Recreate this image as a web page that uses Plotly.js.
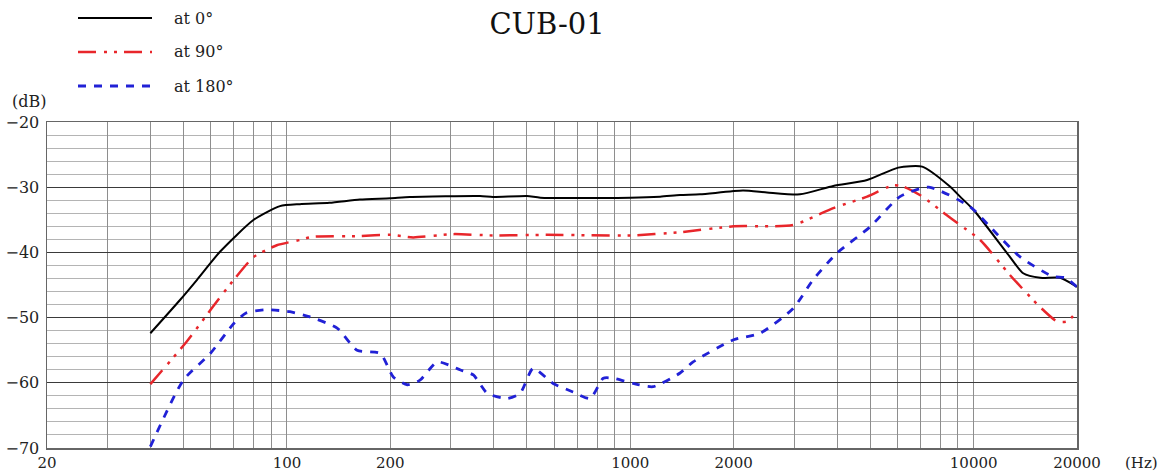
<!DOCTYPE html>
<html>
<head>
<meta charset="utf-8">
<script src="https://cdn.plot.ly/plotly-3.0.1.min.js"></script>
<style>html,body{margin:0;padding:0;background:#fff;}#chart{width:1173px;height:475px;}</style>
</head>
<body>
<div id="chart"></div>
<script>
// Frequency (Hz) and level (dB)
const freq0 = [40, 48.8, 54.7, 63.8, 80, 95.4, 109, 133, 163, 200, 228, 365, 398, 500, 547, 1000, 1221, 1396, 1596, 2129, 2500, 3120, 3900, 4896, 6030, 7080, 8530, 9130, 10000, 12510, 13940, 15630, 17870, 20000];
const db0   = [-52.4, -47.3, -44.2, -39.9, -35.0, -32.9, -32.6, -32.4, -31.9, -31.7, -31.5, -31.35, -31.5, -31.35, -31.6, -31.6, -31.45, -31.2, -31.1, -30.5, -30.8, -31.1, -29.8, -28.9, -27.0, -26.85, -29.9, -31.45, -33.5, -40.1, -43.2, -43.9, -43.9, -45.3];

const freq90 = [40, 51.2, 60.9, 70, 80, 93.4, 109, 119, 163, 200, 233, 305, 398, 572, 1000, 1396, 2000, 2980, 3900, 4896, 5830, 6240, 7100, 8300, 9130, 10450, 12770, 14900, 15920, 17500, 18700, 20000];
const db90   = [-60.2, -53.6, -48.3, -44.2, -40.7, -38.9, -38.1, -37.6, -37.5, -37.3, -37.7, -37.2, -37.4, -37.3, -37.4, -36.9, -36.0, -35.8, -33.2, -31.45, -29.7, -29.9, -31.45, -34.2, -35.8, -38.1, -43.5, -47.3, -48.8, -50.6, -50.6, -49.1];

const freq180 = [40, 49.9, 59.8, 70, 76, 87, 102, 116.7, 140, 160, 187, 204, 224, 244, 274, 319, 349, 383, 438, 478, 521, 596, 681, 764, 834, 891, 1019, 1165, 1396, 1524, 2000, 2388, 2980, 3406, 4000, 4990, 6100, 7400, 9770, 11170, 13660, 17020, 18500, 20000];
const db180   = [-69.8, -59.6, -55.5, -50.9, -49.3, -48.8, -49.1, -49.9, -51.6, -55.0, -55.5, -59.1, -60.3, -59.6, -56.8, -58.0, -58.8, -61.6, -62.4, -61.6, -57.8, -60.1, -61.4, -62.4, -59.3, -59.3, -60.1, -60.6, -58.5, -56.8, -53.4, -52.4, -48.6, -44.2, -40.1, -36.1, -31.45, -30.0, -33.0, -36.1, -40.7, -43.7, -43.9, -45.3];

const seriesNames = ["at 0°", "at 90°", "at 180°"];
const gridFreqs = [20,30,40,50,60,70,80,90,100,200,300,400,500,600,700,800,900,1000,2000,3000,4000,5000,6000,7000,8000,9000,10000,20000];
const labeledFreqs = [20,100,200,1000,2000,10000,20000];
const chartTitle = "CUB-01";

const serif = "DejaVu Serif, Liberation Serif, serif";
const styles = [
  {color: "#000000", width: 2, dash: "solid"},
  {color: "#e8262b", width: 2.5, dash: "18px,8px,3px,7px,3px,7px"},
  {color: "#2121d6", width: 2.8, dash: "8px,8px"}
];

const traces = [[freq0, db0], [freq90, db90], [freq180, db180]].map((s, i) => ({
  x: s[0], y: s[1], type: "scatter", mode: "lines", name: seriesNames[i],
  line: {color: styles[i].color, width: styles[i].width, dash: styles[i].dash, shape: "spline", smoothing: 0.6},
  showlegend: false, hoverinfo: "x+y"
}));

// plot area in pixels: left 47, right 1077, top 122, bottom 448
const L = 47, R = 1077, T = 122, B = 448;
const px = v => (v - L) / (R - L);
const py = v => (B - v) / (B - T);

const shapes = [];
const annotations = [];
const legendY = [18, 52, 86];
seriesNames.forEach((n, i) => {
  shapes.push({type: "line", xref: "paper", yref: "paper", x0: px(78), x1: px(152), y0: py(legendY[i]), y1: py(legendY[i]),
    line: {color: styles[i].color, width: styles[i].width, dash: styles[i].dash}});
  annotations.push({xref: "paper", yref: "paper", x: px(172), y: py(legendY[i]), xanchor: "left", yanchor: "middle",
    text: n, showarrow: false, font: {family: serif, size: 16, color: "#222"}});
});
annotations.push({xref: "paper", yref: "paper", x: px(29), y: py(102), xanchor: "center", yanchor: "middle",
  text: "(dB)", showarrow: false, font: {family: serif, size: 16, color: "#222"}});
annotations.push({xref: "paper", yref: "paper", x: px(1141), y: py(463), xanchor: "center", yanchor: "middle",
  text: "(Hz)", showarrow: false, font: {family: serif, size: 15, color: "#222"}});

const layout = {
  width: 1173, height: 475,
  margin: {l: L, r: 1173 - R, t: T, b: 475 - B, pad: 0},
  paper_bgcolor: "#fff", plot_bgcolor: "#fff",
  title: {text: chartTitle, x: 547 / 1173, xanchor: "center", y: 1 - 24 / 475, yanchor: "middle",
    font: {family: serif, size: 29, color: "#111"}},
  xaxis: {
    type: "log", range: [Math.log10(20), Math.log10(20000)],
    tickmode: "array", tickvals: gridFreqs,
    ticktext: gridFreqs.map(f => labeledFreqs.includes(f) ? String(f) : ""),
    showgrid: true, gridcolor: "#8e8e8e", gridwidth: 1,
    showline: true, linecolor: "#666", linewidth: 1.5, mirror: true,
    ticks: "", ticklen: 0,
    tickfont: {family: serif, size: 15, color: "#222"}, zeroline: false, fixedrange: true
  },
  yaxis: {
    range: [-70, -20], tickmode: "linear", tick0: -70, dtick: 10,
    showgrid: true, gridcolor: "#3a3a3a", gridwidth: 1,
    minor: {dtick: 2, tick0: -70, showgrid: true, gridcolor: "#b4b4b4", gridwidth: 1, ticks: ""},
    showline: true, linecolor: "#666", linewidth: 1.5, mirror: true,
    ticks: "outside", ticklen: 3, tickcolor: "rgba(0,0,0,0)",
    tickfont: {family: serif, size: 16, color: "#222"}, zeroline: false, fixedrange: true
  },
  shapes: shapes,
  annotations: annotations,
  showlegend: false
};

Plotly.newPlot("chart", traces, layout, {displayModeBar: false, staticPlot: true});
</script>
</body>
</html>
